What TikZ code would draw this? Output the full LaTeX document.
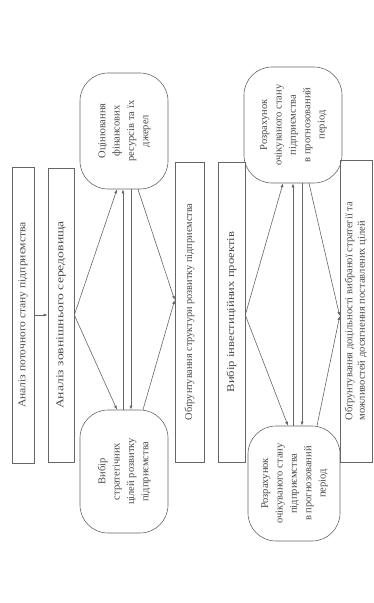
\documentclass[tikz,border=0pt]{standalone}
\usepackage{fontspec}
\setmainfont{Liberation Serif}
\usepackage{graphicx}
\usetikzlibrary{arrows.meta}
\newcommand{\vtext}[2][1]{\rotatebox{90}{\scalebox{#1}[1]{#2}}}
\newcommand{\vlines}[1]{\rotatebox{90}{\renewcommand{\arraystretch}{1.15}\begin{tabular}{@{}c@{}}#1\end{tabular}}}
\tikzset{
  box/.style={draw=black!60, line width=0.6pt, rectangle, inner sep=0pt, text=black!70, font=\fontsize{10.5}{12.5}\selectfont},
  oval/.style={draw=black!60, line width=0.6pt, rectangle, rounded corners=28pt, inner sep=0pt, text=black!70, font=\fontsize{10.5}{12.5}\selectfont},
  conn/.style={draw=black!60, line width=0.6pt, -{Latex[length=4pt,width=3pt]}}
}
\begin{document}
\begin{tikzpicture}[x=1pt,y=-1pt]
\useasboundingbox[fill=white] (0,0) rectangle (374,603);
% rectangles
\node[box, minimum width=22pt, minimum height=296pt] (R1) at (23,315) {\vtext[1.1]{Аналіз поточного стану підприємства}};
\node[box, minimum width=26pt, minimum height=294pt] (R2) at (61,315) {\vtext[1.3]{Аналіз зовнішнього середовища}};
\node[box, minimum width=29pt, minimum height=300pt] (R3) at (189.5,312) {\vtext[0.98]{Обґрунтування структури розвитку підприємства}};
\node[box, minimum width=27pt, minimum height=300pt] (R4) at (231.5,312) {\vtext[1.2]{Вибір інвестиційних проектів}};
\node[box, minimum width=32pt, minimum height=302pt] (R5) at (356,311) {\rotatebox{90}{\renewcommand{\arraystretch}{1.0}\begin{tabular}{@{}l@{}}Обґрунтування доцільності вибраної стратегії та\\ можливостей досягнення поставлених цілей\end{tabular}}};
% rounded nodes
\node[oval, minimum width=88pt, minimum height=116pt] (A) at (124,131) {\vlines{Оцінювання\\ фінансових\\ ресурсів та їх\\ джерел}};
\node[oval, minimum width=88pt, minimum height=123pt] (B) at (124,471.5) {\vlines{Вибір\\ стратегічних\\ цілей розвитку\\ підприємства}};
\node[oval, minimum width=98pt, minimum height=116pt] (C) at (293,125) {\vlines{Розрахунок\\ очікуваного стану\\ підприємства\\ в прогнозований\\ період}};
\node[oval, minimum width=92pt, minimum height=115pt] (D) at (294,483.5) {\vlines{Розрахунок\\ очікуваного стану\\ підприємства\\ в прогнозований\\ період}};
% connectors
\draw[conn] (R1.east) -- (R2.west);
\draw[conn] (R2.east) -- ([xshift=-7pt]A.south);
\draw[conn] (R2.east) -- ([xshift=-7pt]B.north);
\draw[conn] ([xshift=-1pt]B.north) -- ([xshift=-1pt]A.south);
\draw[conn] ([xshift=7pt]A.south) -- ([xshift=7pt]B.north);
\draw[conn] ([xshift=14pt]A.south) -- ([yshift=12pt]R3.west);
\draw[conn] ([xshift=19pt]B.north) -- ([yshift=12pt]R3.west);
\draw[conn] ([yshift=-3pt]R4.east) -- ([xshift=-10pt]C.south);
\draw[conn] ([yshift=-3pt]R4.east) -- ([xshift=-6pt]D.north);
\draw[conn] ([xshift=-1pt]D.north) -- ([xshift=0pt]C.south);
\draw[conn] ([xshift=9pt]C.south) -- ([xshift=8pt]D.north);
\draw[conn] ([xshift=16pt]C.south) -- ([yshift=-5pt]R5.west);
\draw[conn] ([xshift=23pt]D.north) -- ([yshift=-5pt]R5.west);
\end{tikzpicture}
\end{document}
